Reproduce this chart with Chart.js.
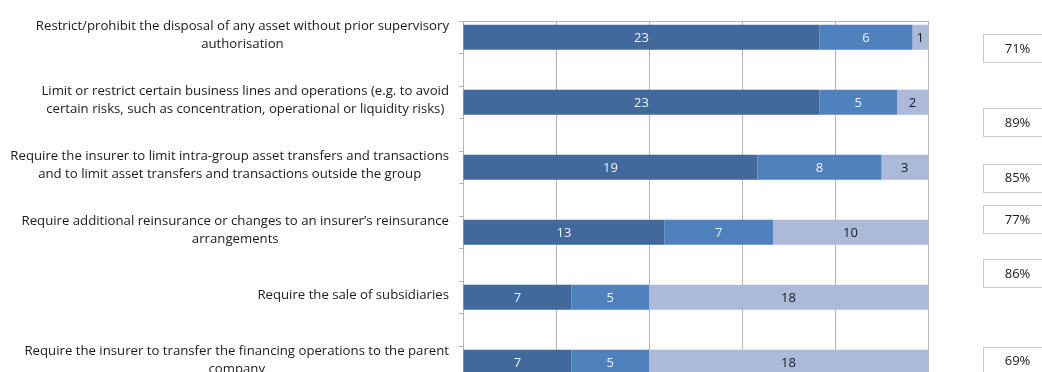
<!DOCTYPE html>
<html>
<head>
<meta charset="utf-8">
<script src="https://cdn.jsdelivr.net/npm/chart.js@4/dist/chart.umd.min.js"></script>
<style>
    html, body { margin: 0; padding: 0; background: #fff; }
    .wrap { width: 1042px; height: 372px; overflow: hidden; }
    .wrap canvas { display: block; }
</style>
</head>
<body>
<div class="wrap"><canvas id="measuresChart" width="1042" height="420"></canvas></div>
<script>
const measures = [
    ['Restrict/prohibit the disposal of any asset without prior supervisory', 'authorisation'],
    ['Limit or restrict certain business lines and operations (e.g. to avoid', 'certain risks, such as concentration, operational or liquidity risks)'],
    ['Require the insurer to limit intra-group asset transfers and transactions', 'and to limit asset transfers and transactions outside the group'],
    ['Require additional reinsurance or changes to an insurer\u2019s reinsurance', 'arrangements'],
    ['Require the sale of subsidiaries'],
    ['Require the insurer to transfer the financing operations to the parent', 'company']
];
const seriesA = [23, 23, 19, 13, 7, 7];
const seriesB = [6, 5, 8, 7, 5, 5];
const seriesC = [1, 2, 3, 10, 18, 18];
const shares = [71, 89, 85, 77, 86, 69];
// row position of each share box, in category-slot units
const shareRows = [0.33, 2.62, 4.32, 5.59, 7.25, 9.95];
const xTicks = [0, 6, 12, 18, 24, 30];

const FONT = '"Open Sans", Lato, sans-serif';
const GRID = '#b4b4b4';

// every measure gets a blank spacer row under it
const slotLabels = measures.flatMap(m => [m.join(' '), '']);
const spaced = arr => arr.flatMap(v => [v, null]);

const segLabels = {
    id: 'segLabels',
    afterDatasetsDraw(chart) {
        const { ctx } = chart;
        ctx.save();
        ctx.font = '13px ' + FONT;
        ctx.textAlign = 'center';
        ctx.textBaseline = 'middle';
        chart.data.datasets.forEach((ds, i) => {
            chart.getDatasetMeta(i).data.forEach((bar, j) => {
                const v = ds.data[j];
                if (v == null) return;
                ctx.fillStyle = ds.labelColor;
                ctx.fillText(String(v), (bar.x + bar.base) / 2, bar.y + 1);
            });
        });
        ctx.restore();
    }
};

const sideText = {
    id: 'sideText',
    afterDraw(chart) {
        const { ctx, chartArea, scales: { y } } = chart;
        ctx.save();
        ctx.font = '13.2px ' + FONT;
        ctx.fillStyle = '#1a1a1a';
        ctx.textBaseline = 'middle';
        ctx.textAlign = 'center';
        const right = chartArea.left - 14;
        const lh = 17.5;
        measures.forEach((lines, i) => {
            const cy = y.getPixelForValue(i * 2) - 2;
            const w = Math.max(...lines.map(l => ctx.measureText(l).width));
            const cx = right - w / 2;
            const top = cy - (lines.length - 1) * lh / 2;
            lines.forEach((l, k) => ctx.fillText(l, cx, top + k * lh));
        });

        // share boxes to the right of the bars
        const bx = chartArea.right + 55.5;
        ctx.font = '13px ' + FONT;
        shares.forEach((s, i) => {
            const cy = y.getPixelForValue(shareRows[i]);
            ctx.fillStyle = '#fff';
            ctx.strokeStyle = '#c8c8c8';
            ctx.lineWidth = 1;
            ctx.fillRect(bx, Math.round(cy - 14) + 0.5, 70, 28);
            ctx.strokeRect(bx, Math.round(cy - 14) + 0.5, 70, 28);
            ctx.fillStyle = '#1a1a1a';
            ctx.fillText(s + '%', bx + 34, cy + 1);
        });
        ctx.restore();
    }
};

new Chart(document.getElementById('measuresChart').getContext('2d'), {
    type: 'bar',
    data: {
        labels: slotLabels,
        datasets: [
            { data: spaced(seriesA), backgroundColor: '#41699c', labelColor: '#f2f2f2' },
            { data: spaced(seriesB), backgroundColor: '#4f81bd', labelColor: '#f2f2f2' },
            { data: spaced(seriesC), backgroundColor: '#aabad8', labelColor: '#1a1a1a' }
        ]
    },
    options: {
        indexAxis: 'y',
        responsive: false,
        animation: false,
        layout: { padding: { top: 21, right: 114, bottom: 9, left: 0 } },
        plugins: { legend: { display: false }, tooltip: { enabled: false } },
        datasets: { bar: { barPercentage: 0.77, categoryPercentage: 1, borderWidth: 0 } },
        scales: {
            x: {
                stacked: true,
                min: 0,
                max: 30,
                afterBuildTicks: s => { s.ticks = xTicks.map(v => ({ value: v })); },
                afterFit: s => { s.height = 0; },
                ticks: { display: false },
                border: { display: false },
                grid: { color: GRID, lineWidth: 1, drawTicks: false }
            },
            y: {
                stacked: true,
                afterFit: s => { s.width = 463; },
                ticks: { display: false },
                border: { display: true, color: GRID, width: 1 },
                grid: {
                    offset: true,
                    color: c => c.index === 0 ? GRID : 'transparent',
                    tickColor: GRID,
                    tickLength: 4,
                    lineWidth: 1
                }
            }
        }
    },
    plugins: [segLabels, sideText]
});
</script>
</body>
</html>
